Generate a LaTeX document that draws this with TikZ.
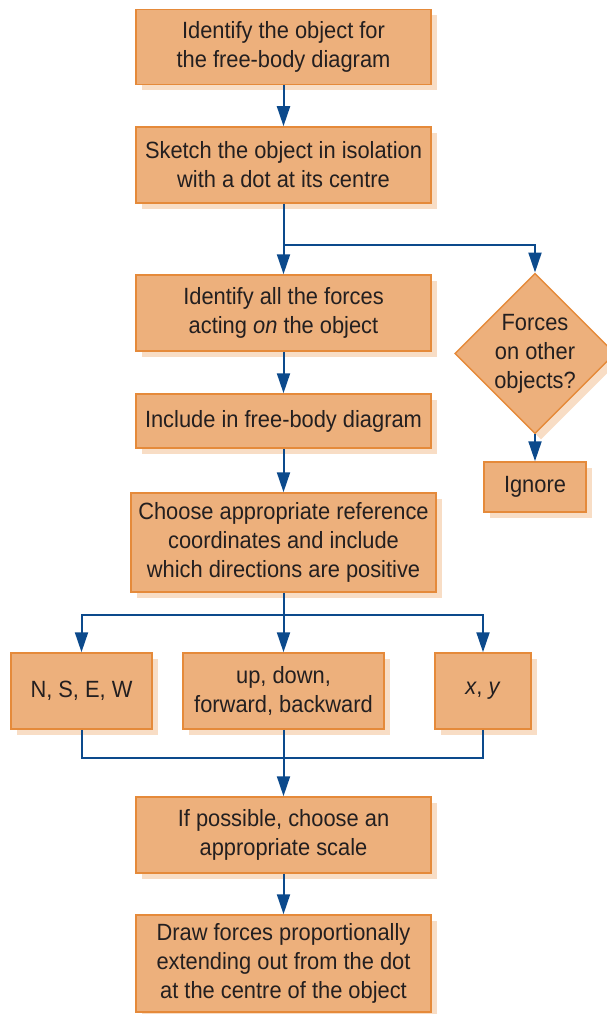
\documentclass[tikz,border=0pt]{standalone}
\usepackage{fontspec}
\setmainfont{Liberation Sans}[FakeStretch=0.93]
\usetikzlibrary{arrows.meta,shadows,shapes.geometric}
\definecolor{boxfill}{RGB}{237,176,124}
\definecolor{boxline}{RGB}{229,138,58}
\definecolor{boxshade}{RGB}{248,221,197}
\definecolor{flowblue}{RGB}{12,74,140}
\definecolor{inktext}{RGB}{35,31,32}
\tikzset{
	stepnode/.style={draw=boxline, fill=boxfill, line width=1.5pt, align=center, text=inktext,
		font=\fontsize{23.5}{29}\selectfont, inner sep=0pt,
		drop shadow={shadow xshift=6pt, shadow yshift=-6pt, fill=boxshade, opacity=1}},
	choice/.style={stepnode, diamond, aspect=1, minimum size=157pt},
	link/.style={draw=flowblue, line width=2pt},
	flow/.style={link, -{Triangle[length=20pt, width=13pt]}}
}

\begin{document}
\begin{tikzpicture}[x=1pt, y=-1pt]
				\useasboundingbox (0, 0) rectangle (606, 1014);
				
				\node[stepnode, minimum width=295pt, minimum height=75pt] (identify) at (283.5, 47) {Identify the object for\\the free-body diagram};
				\node[stepnode, minimum width=295pt, minimum height=76pt] (sketch) at (283.5, 165) {Sketch the object in isolation\\with a dot at its centre};
				\node[stepnode, minimum width=295pt, minimum height=76pt] (forces) at (283.5, 313) {Identify all the forces\\acting \textit{on} the object};
				\node[stepnode, minimum width=295pt, minimum height=54pt] (include) at (283.5, 421) {Include in free-body diagram};
				\node[stepnode, minimum width=305pt, minimum height=99pt] (coords) at (283.5, 542.5) {Choose appropriate reference\\coordinates and include\\which directions are positive};
				
				\node[choice] (other) at (535, 353.5) {Forces\\on other\\objects?};
				\node[stepnode, minimum width=102pt, minimum height=50pt] (ignore) at (535, 487) {Ignore};
				
				\node[stepnode, minimum width=141pt, minimum height=76pt] (compass) at (81.5, 691) {N, S, E, W};
				\node[stepnode, minimum width=201pt, minimum height=76pt] (updown) at (283.5, 691) {up, down,\\forward, backward};
				\node[stepnode, minimum width=96pt, minimum height=76pt] (xy) at (483, 691) {\textit{x}, \textit{y}};
				
				\node[stepnode, minimum width=295pt, minimum height=76pt] (scale) at (283.5, 835) {If possible, choose an\\appropriate scale};
				\node[stepnode, minimum width=295pt, minimum height=97pt] (final) at (283.5, 963.5) {Draw forces proportionally\\extending out from the dot\\at the centre of the object};
				
				\coordinate (split) at (283.5, 245);
				\coordinate (fan) at (283.5, 615);
				\coordinate (merge) at (283.5, 758);
				
				\draw[flow] (identify) -- (sketch);
				\draw[flow] (sketch) -- (forces);
				\draw[flow] (split) -| (other);
				\draw[flow] (other) -- (ignore);
				\draw[flow] (forces) -- (include);
				\draw[flow] (include) -- (coords);
				
				\draw[flow] (coords) -- (updown);
				\draw[flow] (fan) -| (compass);
				\draw[flow] (fan) -| (xy);
				
				\draw[link] (compass) |- (merge);
				\draw[link] (xy) |- (merge);
				\draw[flow] (updown) -- (scale);
				\draw[flow] (scale) -- (final);
\end{tikzpicture}
\end{document}
